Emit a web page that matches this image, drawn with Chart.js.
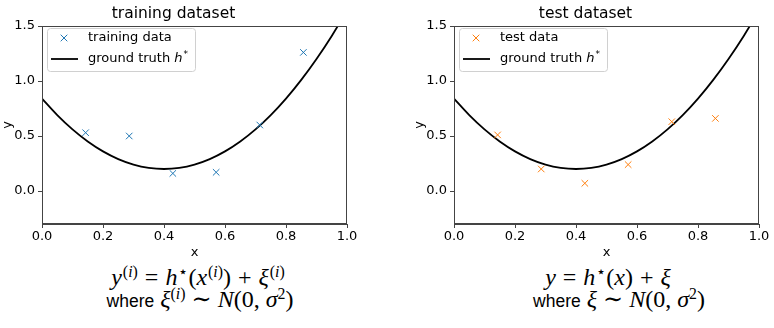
<!DOCTYPE html>
<html><head><meta charset="utf-8">
<script src="https://cdn.jsdelivr.net/npm/chart.js@4"></script>
<style>
body{margin:0;background:#fff;width:774px;height:328px;position:relative;overflow:hidden}
.c{position:absolute;top:0;width:360px;height:260px}
.f{position:absolute;white-space:nowrap;font-family:"Liberation Serif","DejaVu Serif",serif;font-size:24px;line-height:26px;color:#000;transform:translateX(-50%)}
.w{font-family:"Liberation Sans",Arial,sans-serif;font-size:17.5px;font-style:normal}
.o{margin:0 7px}
sup{font-size:0.66em;vertical-align:0.48em;line-height:0;font-style:normal}
.l1 sup{margin-left:1px}
</style></head><body>
<div class="c" style="left:0"><canvas id="c1" width="360" height="260"></canvas></div>
<div class="c" style="left:412px"><canvas id="c2" width="360" height="260"></canvas></div>
<div class="f l1" style="left:198px;top:264px"><i>y</i><sup>(<i>i</i>)</sup><span class="o">=</span><i>h</i><sup>⋆</sup>(<i>x</i><sup>(<i>i</i>)</sup>)<span class="o">+</span><i>ξ</i><sup>(<i>i</i>)</sup></div>
<div class="f" style="left:200px;top:286px"><span class="w">where</span> <i>ξ</i><sup>(<i>i</i>)</sup> ∼ <i>N</i>(0, <i>σ</i><sup>2</sup>)</div>
<div class="f l1" style="left:608px;top:264px"><i>y</i><span class="o">=</span><i>h</i><sup>⋆</sup>(<i>x</i>)<span class="o">+</span><i>ξ</i></div>
<div class="f" style="left:619px;top:286px"><span class="w">where</span> <i>ξ</i> ∼ <i>N</i>(0, <i>σ</i><sup>2</sup>)</div>
<script>
// ---- data ----
const sampleX = [0.143, 0.286, 0.429, 0.571, 0.714, 0.857];
const trainY  = [0.53, 0.50, 0.16, 0.17, 0.60, 1.26];
const testY   = [0.51, 0.20, 0.07, 0.24, 0.63, 0.66];
const truthX  = [0, 0.05, 0.1, 0.15, 0.2, 0.25, 0.3, 0.35, 0.4, 0.45, 0.5, 0.55, 0.6, 0.65, 0.7, 0.75, 0.8, 0.85, 0.9, 0.95, 1.0];
const truthY  = [0.84, 0.69, 0.56, 0.45, 0.36, 0.29, 0.24, 0.21, 0.20, 0.21, 0.24, 0.29, 0.36, 0.45, 0.56, 0.69, 0.84, 1.01, 1.20, 1.41, 1.64];
const xTicks  = [0, 0.2, 0.4, 0.6, 0.8, 1.0];
const yTicks  = [0, 0.5, 1.0, 1.5];
const titles  = ['training dataset', 'test dataset'];
const pointLabels = ['training data', 'test data'];
const truthLabel = 'ground truth';

const FONT = "'DejaVu Sans', sans-serif";
const AXIS = '#444';
const FS = 13;

const framePlugin = {
  id: 'frame',
  afterDraw(chart) {
    const {ctx, chartArea: a} = chart;
    ctx.save();
    ctx.strokeStyle = AXIS; ctx.lineWidth = 1;
    ctx.strokeRect(Math.round(a.left) + 0.5, Math.round(a.top) + 0.5, Math.round(a.right - a.left) - 1, Math.round(a.bottom - a.top) - 1);
    ctx.restore();
  }
};

const legendPlugin = {
  id: 'innerLegend',
  afterDatasetsDraw(chart, args, opts) {
    const {ctx, chartArea: a} = chart;
    const x0 = a.left + 5, y0 = a.top + 2, w = 148, h = 43;
    ctx.save();
    ctx.beginPath();
    ctx.roundRect(x0 + 0.5, y0 + 0.5, w, h, 3);
    ctx.fillStyle = 'rgba(255,255,255,0.8)';
    ctx.fill();
    ctx.strokeStyle = '#d0d0d0'; ctx.lineWidth = 1;
    ctx.stroke();
    // marker
    const mx = a.left + 22, my = a.top + 12, r = 3.3;
    ctx.strokeStyle = opts.color; ctx.lineWidth = 1;
    ctx.beginPath();
    ctx.moveTo(mx - r, my - r); ctx.lineTo(mx + r, my + r);
    ctx.moveTo(mx - r, my + r); ctx.lineTo(mx + r, my - r);
    ctx.stroke();
    // line sample
    const ly = a.top + 33;
    ctx.strokeStyle = '#000'; ctx.lineWidth = 1.8;
    ctx.beginPath(); ctx.moveTo(a.left + 9, ly); ctx.lineTo(a.left + 36, ly); ctx.stroke();
    // texts
    ctx.fillStyle = '#000';
    ctx.textBaseline = 'middle';
    ctx.font = FS + 'px ' + FONT;
    const tx = a.left + 46;
    ctx.fillText(opts.pointLabel, tx, my);
    ctx.fillText(truthLabel + ' ', tx, ly);
    let off = ctx.measureText(truthLabel + ' ').width;
    ctx.font = 'italic ' + FS + 'px ' + FONT;
    ctx.fillText('h', tx + off, ly);
    off += ctx.measureText('h').width + 1;
    ctx.font = '9px ' + FONT;
    ctx.fillText('*', tx + off, ly - 4);
    ctx.restore();
  }
};

function makeChart(id, idx, ys, color) {
  const pts = sampleX.map((x, i) => ({x, y: ys[i]}));
  const line = truthX.map((x, i) => ({x, y: truthY[i]}));
  return new Chart(document.getElementById(id), {
    type: 'scatter',
    data: {
      datasets: [
        {label: truthLabel, data: line, showLine: true, borderColor: '#000', borderWidth: 1.8,
         pointRadius: 0, cubicInterpolationMode: 'monotone', clip: 0, order: 2},
        {label: pointLabels[idx], data: pts, pointStyle: 'crossRot', pointRadius: 4.6,
         borderColor: color, backgroundColor: color, pointBorderWidth: 1, borderWidth: 1, order: 1}
      ]
    },
    options: {
      responsive: false, animation: false, devicePixelRatio: 1,
      layout: {padding: {left: 0, right: 13, top: 0, bottom: 0}},
      plugins: {
        legend: {display: false}, tooltip: {enabled: false},
        title: {display: true, text: titles[idx], color: '#000', font: {family: FONT, size: 15.5, weight: 'normal', lineHeight: 1.2},
                padding: {top: 5, bottom: 2.4}},
        innerLegend: {color, pointLabel: pointLabels[idx]}
      },
      scales: {
        x: {
          type: 'linear', position: 'bottom', min: 0, max: 1,
          afterBuildTicks: s => { s.ticks = xTicks.map(v => ({value: v})); },
          afterFit: s => { s.height = 36; },
          grid: {display: true, drawOnChartArea: false, drawTicks: true, tickLength: 4, color: AXIS},
          border: {display: true, color: AXIS, width: 1},
          ticks: {color: '#000', font: {family: FONT, size: FS}, padding: 1, maxRotation: 0, autoSkip: false,
                  callback: v => Number(v).toFixed(1)},
          title: {display: true, text: 'x', color: '#000', font: {family: FONT, size: FS, lineHeight: 1.2}, padding: {top: 0, bottom: 0}}
        },
        y: {
          type: 'linear', position: 'left', min: -0.3, max: 1.5,
          afterBuildTicks: s => { s.ticks = yTicks.map(v => ({value: v})); },
          afterFit: s => { s.width = 42; },
          grid: {display: true, drawOnChartArea: false, drawTicks: true, tickLength: 4, color: AXIS},
          border: {display: true, color: AXIS, width: 1},
          ticks: {color: '#000', font: {family: FONT, size: FS}, padding: 3, autoSkip: false,
                  callback: v => Number(v).toFixed(1)},
          title: {display: true, text: 'y', color: '#000', font: {family: FONT, size: FS, lineHeight: 1.2}, padding: {top: 0, bottom: 0}}
        }
      }
    },
    plugins: [framePlugin, legendPlugin]
  });
}

makeChart('c1', 0, trainY, '#1f77b4');
makeChart('c2', 1, testY, '#ff7f0e');
</script>
</body></html>
